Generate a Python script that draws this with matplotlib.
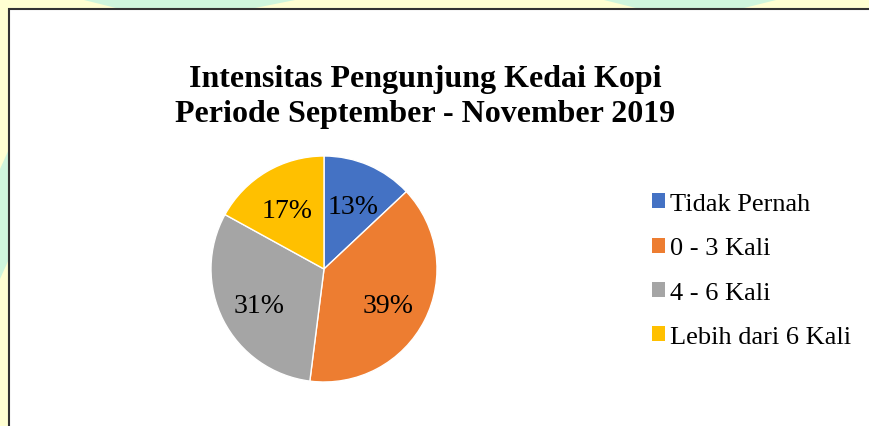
import matplotlib
matplotlib.use('Agg')
import matplotlib.pyplot as plt
import matplotlib.transforms as mtransforms
from matplotlib.patches import Rectangle, Polygon, Patch

# Data
categories = ['Tidak Pernah', '0 - 3 Kali', '4 - 6 Kali', 'Lebih dari 6 Kali']
values = [13, 39, 31, 17]
colors = ['#4472C4', '#ED7D31', '#A5A5A5', '#FFC000']
title = 'Intensitas Pengunjung Kedai Kopi\nPeriode September - November 2019'

plt.rcParams['font.family'] = ['Liberation Serif', 'DejaVu Serif']

W, H = 870, 427
fig = plt.figure(figsize=(W / 100, H / 100), dpi=100)
fig.patch.set_facecolor('#FFFFD2')

# faint watermark bands in the page background
for pts in [[(80, 0), (300, 0), (250, 10), (120, 10)],
            [(600, 0), (780, 0), (740, 10), (640, 10)],
            [(0, 170), (9, 150), (9, 260), (0, 280)]]:
    fig.patches.append(Polygon([(x / W, 1 - y / H) for x, y in pts], closed=True,
                               transform=fig.transFigure, facecolor='#CFF5DC',
                               edgecolor='none', zorder=0))

# white chart area with dark border
fig.patches.append(Rectangle((9 / W, -0.1), 1.1, 1 - 10 / H + 0.1,
                             transform=fig.transFigure, facecolor='white',
                             edgecolor='#333333', linewidth=1.5, zorder=1))

# title
fig.text(425 / W, 1 - 97 / H, title, ha='center', va='center',
         fontsize=23, fontweight='bold', linespacing=1.27, zorder=3)

# pie
cx, cy, r = 324, 270, 113
ax = fig.add_axes([(cx - r) / W, 1 - (cy + r) / H, 2 * r / W, 2 * r / H])
ax.set_zorder(3)
wedges, texts, autotexts = ax.pie(values, colors=colors, startangle=90, counterclock=False,
                                  autopct='%1.0f%%', pctdistance=0.64, radius=1,
                                  wedgeprops={'edgecolor': 'white', 'linewidth': 1})
shift = mtransforms.ScaledTranslation(0, -4 / 100, fig.dpi_scale_trans)
for t in autotexts:
    t.set_fontsize(20)
    t.set_color('black')
    t.set_transform(t.get_transform() + shift)
ax.set_xlim(-1, 1)
ax.set_ylim(-1, 1)
ax.set_aspect('equal')
ax.axis('off')

# legend
handles = [Patch(facecolor=c, edgecolor='none') for c in colors]
leg = fig.legend(handles, categories, loc='upper left', bbox_to_anchor=(652 / W, 1 - 194 / H),
                 frameon=False, fontsize=19, handlelength=0.5, handleheight=0.5,
                 handletextpad=0.2, labelspacing=0.85, borderaxespad=0, borderpad=0)
leg.set_zorder(3)

plt.savefig('out.png', dpi=100)
